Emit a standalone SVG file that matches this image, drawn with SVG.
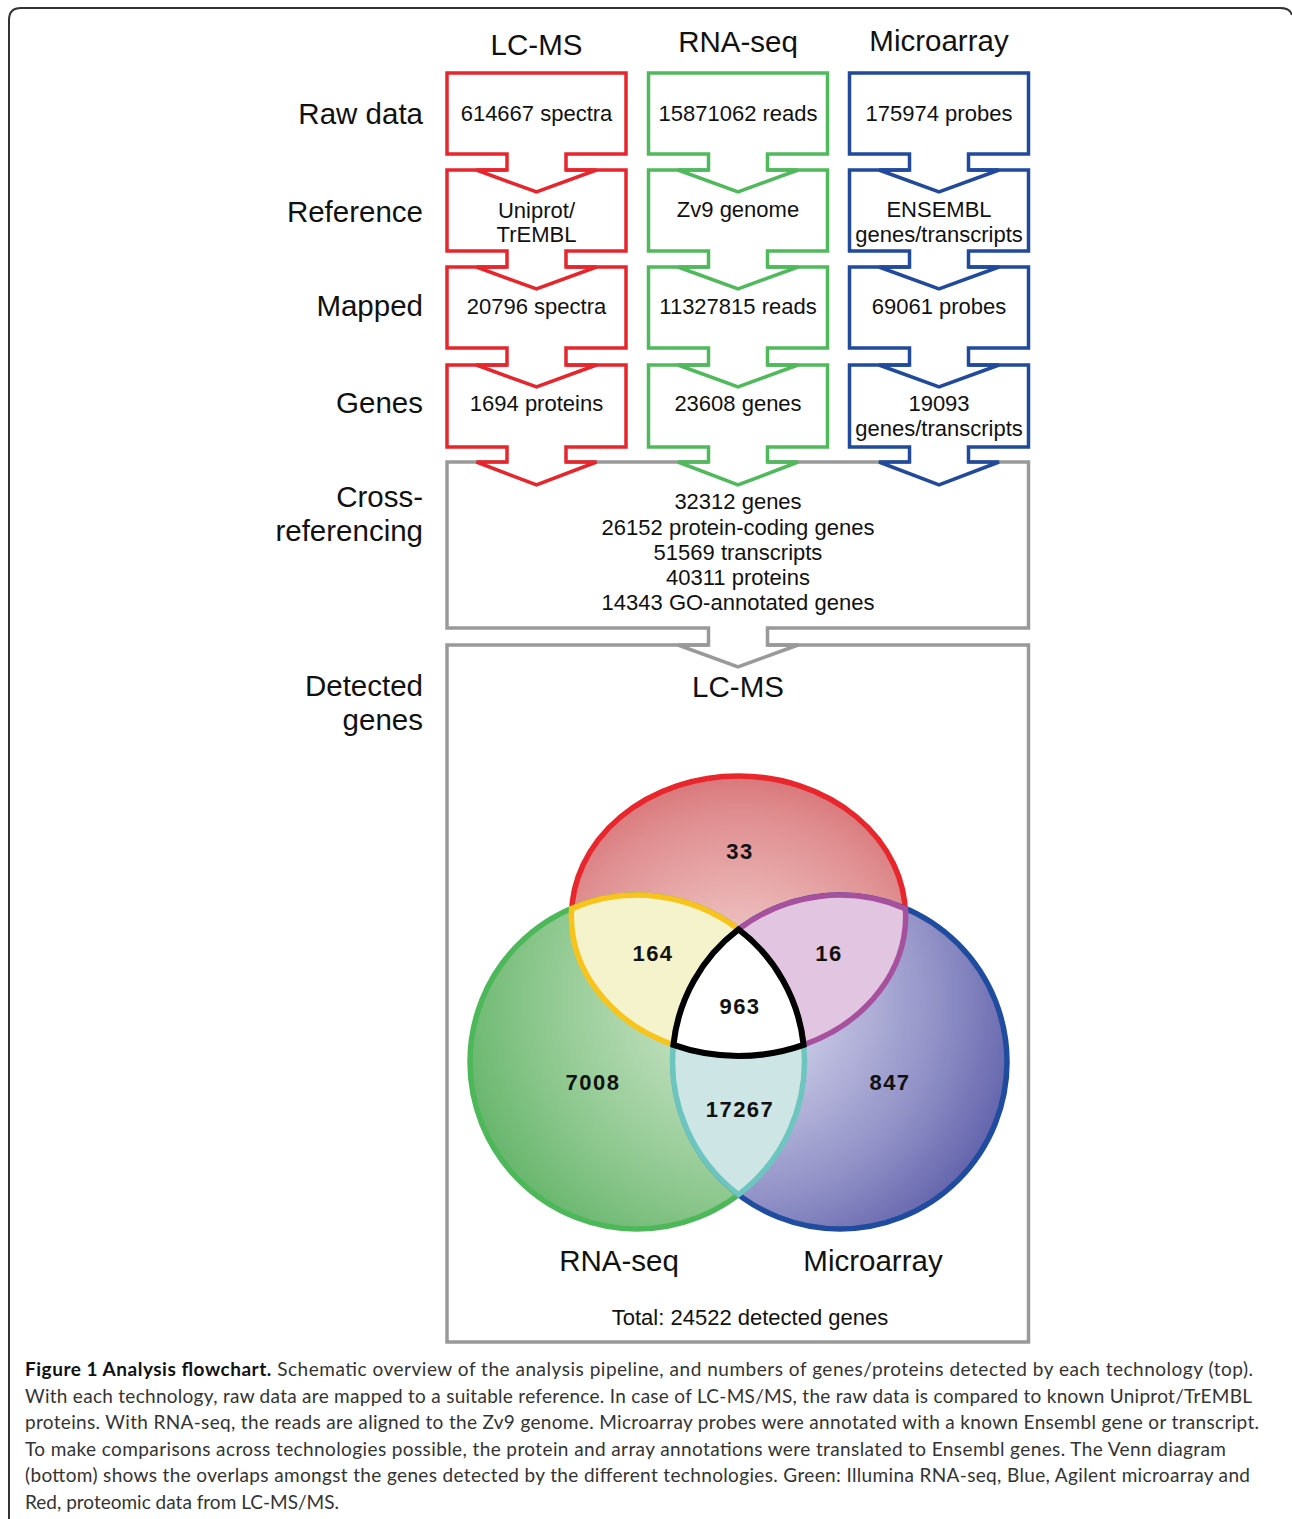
<svg xmlns="http://www.w3.org/2000/svg" width="1292" height="1519" viewBox="0 0 1292 1519">
<defs>
<style>
text{font-family:"Liberation Sans",Arial,sans-serif;fill:#111}
.hdr{font-size:29.5px;text-anchor:middle}
.row{font-size:29.5px;text-anchor:end}
.bx{font-size:22px;text-anchor:middle}
.num{font-size:22px;font-weight:bold;text-anchor:middle;letter-spacing:1.5px}
.cap{font-family:Lato,"Open Sans",sans-serif;font-size:19px;fill:#333}
.red{fill:none;stroke:#e6262c;stroke-width:3.5}
.grn{fill:none;stroke:#4fb95c;stroke-width:3.5}
.blu{fill:none;stroke:#21499c;stroke-width:3.5}
.gry{fill:none;stroke:#999;stroke-width:3.5}
</style>
<radialGradient id="gR" gradientUnits="userSpaceOnUse" cx="738" cy="1000" r="250">
<stop offset="0" stop-color="#f5dada"/><stop offset="0.4" stop-color="#eab2b2"/><stop offset="0.75" stop-color="#df8d8f"/><stop offset="1" stop-color="#d4686d"/>
</radialGradient>
<radialGradient id="gG" gradientUnits="userSpaceOnUse" cx="738" cy="1000" r="290">
<stop offset="0" stop-color="#e2f0e0"/><stop offset="0.3" stop-color="#b8dbb6"/><stop offset="0.7" stop-color="#8cc78d"/><stop offset="1" stop-color="#66b56b"/>
</radialGradient>
<radialGradient id="gB" gradientUnits="userSpaceOnUse" cx="738" cy="1000" r="290">
<stop offset="0" stop-color="#e6e6f4"/><stop offset="0.3" stop-color="#c2c2e2"/><stop offset="0.7" stop-color="#9090c6"/><stop offset="1" stop-color="#6262ac"/>
</radialGradient>
</defs>
<rect width="1292" height="1519" fill="#fff"/>
<path d="M9,1519 V20 Q9,8 21,8 H1280 Q1290,8 1292,15" fill="none" stroke="#333" stroke-width="2"/>

<g id="headers">
<text class="hdr" x="536.5" y="55">LC-MS</text>
<text class="hdr" x="738" y="52">RNA-seq</text>
<text class="hdr" x="939" y="51">Microarray</text>
</g>
<g id="row-labels">
<text class="row" x="423" y="124">Raw data</text>
<text class="row" x="423" y="222">Reference</text>
<text class="row" x="423" y="316">Mapped</text>
<text class="row" x="423" y="413">Genes</text>
<text class="row" x="423" y="507">Cross-</text>
<text class="row" x="423" y="541">referencing</text>
<text class="row" x="423" y="696">Detected</text>
<text class="row" x="423" y="730">genes</text>
</g>

<g id="cross-box">
<path class="gry" d="M507,462 H447 V628 H708.5 V645 H678 L738,667 L798,645 H767.5 V628 H1028.5 V462 H968.5 M909.5,462 H767.5 M708.5,462 H566"/>
<text class="bx" x="738" y="509">32312 genes</text>
<text class="bx" x="738" y="535">26152 protein-coding genes</text>
<text class="bx" x="738" y="560">51569 transcripts</text>
<text class="bx" x="738" y="585">40311 proteins</text>
<text class="bx" x="738" y="610">14343 GO-annotated genes</text>
</g>
<g id="detected-box">
<path class="gry" d="M708.5,645 H447 V1342 H1028.5 V645 H767.5"/>
</g>

<g id="lcms-raw"><path class="red" d="M447,73 H626 V154 H566 V170 H596.5 L536.5,192 L476.5,170 H507 V154 H447 Z"/><text class="bx" x="536.5" y="121">614667 spectra</text></g>
<g id="lcms-ref"><path class="red" d="M507,170 H447 V251 H507 V267 H476.5 L536.5,289 L596.5,267 H566 V251 H626 V170 H566"/><text class="bx" x="536.5" y="218">Uniprot/</text><text class="bx" x="536.5" y="242">TrEMBL</text></g>
<g id="lcms-mapped"><path class="red" d="M507,267 H447 V348 H507 V365 H476.5 L536.5,387 L596.5,365 H566 V348 H626 V267 H566"/><text class="bx" x="536.5" y="314">20796 spectra</text></g>
<g id="lcms-genes"><path class="red" d="M507,365 H447 V447 H507 V462 H476.5 L536.5,485 L596.5,462 H566 V447 H626 V365 H566"/><text class="bx" x="536.5" y="411">1694 proteins</text></g>

<g id="rnaseq-raw"><path class="grn" d="M648.5,73 H827.5 V154 H767.5 V170 H798 L738,192 L678,170 H708.5 V154 H648.5 Z"/><text class="bx" x="738" y="121">15871062 reads</text></g>
<g id="rnaseq-ref"><path class="grn" d="M708.5,170 H648.5 V251 H708.5 V267 H678 L738,289 L798,267 H767.5 V251 H827.5 V170 H767.5"/><text class="bx" x="738" y="217">Zv9 genome</text></g>
<g id="rnaseq-mapped"><path class="grn" d="M708.5,267 H648.5 V348 H708.5 V365 H678 L738,387 L798,365 H767.5 V348 H827.5 V267 H767.5"/><text class="bx" x="738" y="314">11327815 reads</text></g>
<g id="rnaseq-genes"><path class="grn" d="M708.5,365 H648.5 V447 H708.5 V462 H678 L738,485 L798,462 H767.5 V447 H827.5 V365 H767.5"/><text class="bx" x="738" y="411">23608 genes</text></g>

<g id="array-raw"><path class="blu" d="M849.5,73 H1028.5 V154 H968.5 V170 H999 L939,192 L879,170 H909.5 V154 H849.5 Z"/><text class="bx" x="939" y="121">175974 probes</text></g>
<g id="array-ref"><path class="blu" d="M909.5,170 H849.5 V251 H909.5 V267 H879 L939,289 L999,267 H968.5 V251 H1028.5 V170 H968.5"/><text class="bx" x="939" y="217">ENSEMBL</text><text class="bx" x="939" y="242">genes/transcripts</text></g>
<g id="array-mapped"><path class="blu" d="M909.5,267 H849.5 V348 H909.5 V365 H879 L939,387 L999,365 H968.5 V348 H1028.5 V267 H968.5"/><text class="bx" x="939" y="314">69061 probes</text></g>
<g id="array-genes"><path class="blu" d="M909.5,365 H849.5 V447 H909.5 V462 H879 L939,485 L999,462 H968.5 V447 H1028.5 V365 H968.5"/><text class="bx" x="939" y="411">19093</text><text class="bx" x="939" y="436">genes/transcripts</text></g>

<g id="venn">
<ellipse cx="738.5" cy="916" rx="167" ry="140" fill="url(#gR)" stroke="#e8262b" stroke-width="5.5"/>
<circle cx="637" cy="1062" r="167" fill="url(#gG)" stroke="#4cb85a" stroke-width="5.5"/>
<circle cx="840" cy="1062" r="167" fill="url(#gB)" stroke="#204c9f" stroke-width="5.5"/>
<path d="M571.6,908.6 A167,167 0 0 1 738.5,929.4 A167,167 0 0 0 673.4,1044.9 A167,140 0 0 1 571.6,908.6 Z" fill="#f5f3cb" stroke="#f8c41c" stroke-width="5.5"/>
<path d="M738.5,929.4 A167,167 0 0 1 905.4,908.6 A167,140 0 0 1 803.6,1044.9 A167,167 0 0 0 738.5,929.4 Z" fill="#e2c6e1" stroke="#a6509e" stroke-width="5.5"/>
<path d="M673.4,1044.9 A167,140 0 0 0 803.6,1044.9 A167,167 0 0 1 738.5,1194.6 A167,167 0 0 1 673.4,1044.9 Z" fill="#cde6e5" stroke="#6cc5bf" stroke-width="5.5"/>
<path d="M738.5,929.4 A167,167 0 0 1 803.6,1044.9 A167,140 0 0 1 673.4,1044.9 A167,167 0 0 1 738.5,929.4 Z" fill="#fff" stroke="#000" stroke-width="6"/>
<text class="num" x="740" y="858.5">33</text>
<text class="num" x="653" y="960.5">164</text>
<text class="num" x="829" y="960.5">16</text>
<text class="num" x="740" y="1013.5">963</text>
<text class="num" x="593" y="1089.5">7008</text>
<text class="num" x="740" y="1116.5">17267</text>
<text class="num" x="890" y="1089.5">847</text>
<text class="hdr" x="738" y="697">LC-MS</text>
<text class="hdr" x="619" y="1271">RNA-seq</text>
<text class="hdr" x="873" y="1271">Microarray</text>
<text class="bx" x="750" y="1325">Total: 24522 detected genes</text>
</g>

<g id="caption">
<text class="cap" x="25" y="1376" textLength="1228" lengthAdjust="spacing"><tspan font-weight="bold" fill="#111">Figure 1 Analysis flowchart.</tspan> Schematic overview of the analysis pipeline, and numbers of genes/proteins detected by each technology (top).</text>
<text class="cap" x="25" y="1402.5" textLength="1227" lengthAdjust="spacing">With each technology, raw data are mapped to a suitable reference. In case of LC-MS/MS, the raw data is compared to known Uniprot/TrEMBL</text>
<text class="cap" x="25" y="1429" textLength="1234" lengthAdjust="spacing">proteins. With RNA-seq, the reads are aligned to the Zv9 genome. Microarray probes were annotated with a known Ensembl gene or transcript.</text>
<text class="cap" x="25" y="1455.5" textLength="1201" lengthAdjust="spacing">To make comparisons across technologies possible, the protein and array annotations were translated to Ensembl genes. The Venn diagram</text>
<text class="cap" x="25" y="1482" textLength="1225" lengthAdjust="spacing">(bottom) shows the overlaps amongst the genes detected by the different technologies. Green: Illumina RNA-seq, Blue, Agilent microarray and</text>
<text class="cap" x="25" y="1508.5">Red, proteomic data from LC-MS/MS.</text>
</g>
</svg>
